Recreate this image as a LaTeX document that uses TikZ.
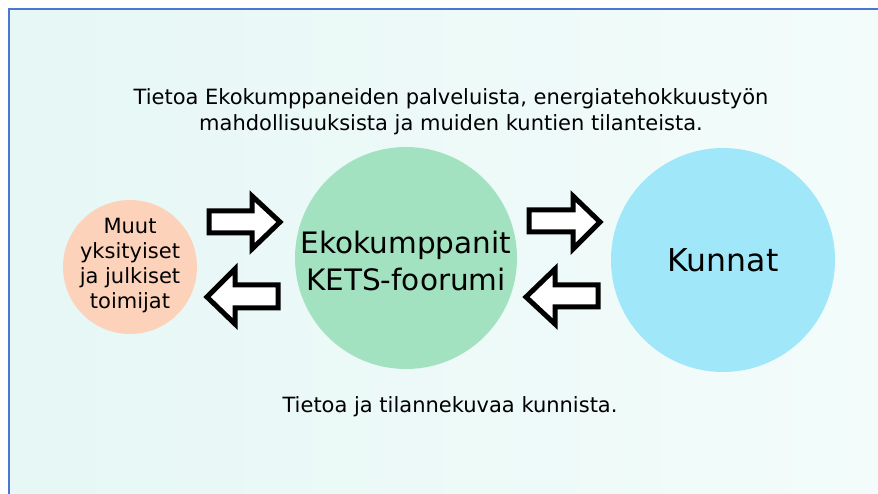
\documentclass[tikz,border=0pt]{standalone}
\usepackage{fontspec}
\setmainfont{DejaVu Sans}
\definecolor{framec}{HTML}{4A78D0}
\definecolor{bgl}{HTML}{E6F7F5}
\definecolor{bgr}{HTML}{F3FCFB}
\definecolor{peach}{HTML}{FCD3BA}
\definecolor{mint}{HTML}{A3E2C0}
\definecolor{sky}{HTML}{A0E7FA}
\tikzset{
  circ/.style={circle, inner sep=0pt, draw=none, align=center, text=black},
  blockarrow/.style={draw=black, fill=white, line width=5pt, line join=miter, miter limit=10},
  lbl/.style={align=center, inner sep=0pt, text=black}
}
\begin{document}
\begin{tikzpicture}[x=1pt,y=-1pt]
\useasboundingbox (0,0) rectangle (878,494);
\fill[white] (0,0) rectangle (878,494);
\shade[left color=bgl, right color=bgr] (9,9) rectangle (878,494);
\draw[framec, line width=2pt] (9,494) -- (9,9) -- (878,9);

\node[circ, fill=peach, minimum size=134pt] (muut) at (130,267) {};
\node[lbl, font=\fontsize{21}{25.3}\selectfont] (muuttxt) at (130,265.5) {Muut\\yksityiset\\ja julkiset\\toimijat};
\node[circ, fill=mint, minimum size=222pt] (eko) at (406,258) {};
\node[lbl, font=\fontsize{29.5}{37}\selectfont] (ekotxt) at (406,261) {Ekokumppanit\\KETS-foorumi};
\node[circ, fill=sky, minimum size=224pt, font=\fontsize{31.5}{36}\selectfont] (kun) at (723,260) {Kunnat};

\node[lbl, font=\fontsize{21}{26}\selectfont] (top) at (451,112) {Tietoa Ekokumppaneiden palveluista, energiatehokkuustyön\\mahdollisuuksista ja muiden kuntien tilanteista.};
\node[lbl, font=\fontsize{21}{26}\selectfont] (bot) at (450,407) {Tietoa ja tilannekuvaa kunnista.};

% right arrow 1
\draw[blockarrow] (209,211) -- (252,211) -- (252,196) -- (280,222) -- (252,249) -- (252,233) -- (209,233) -- cycle;
% left arrow 1
\draw[blockarrow] (278,285) -- (235,285) -- (235,269) -- (207,297) -- (235,324) -- (235,308) -- (278,308) -- cycle;
% right arrow 2
\draw[blockarrow] (529,210) -- (573,210) -- (573,196) -- (600,222) -- (573,249) -- (573,232) -- (529,232) -- cycle;
% left arrow 2
\draw[blockarrow] (598,285) -- (555,285) -- (555,269) -- (526,297) -- (555,324) -- (555,307) -- (598,307) -- cycle;
\end{tikzpicture}
\end{document}
